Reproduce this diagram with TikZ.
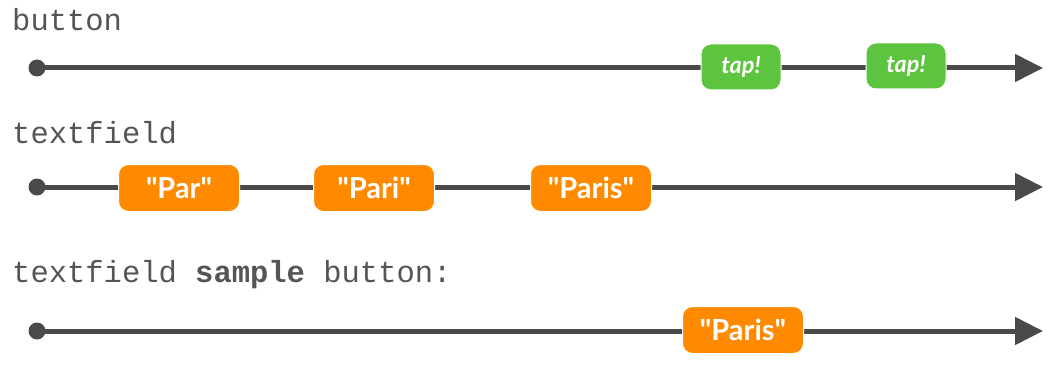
\documentclass[tikz,border=0pt]{standalone}
\usepackage{fontspec}
\setmainfont{Lato}[Ligatures=TeXOff]
\setmonofont{Liberation Mono}
\usetikzlibrary{arrows.meta}
\definecolor{linegray}{HTML}{4A4A4A}
\definecolor{labelgray}{HTML}{555555}
\definecolor{tapgreen}{HTML}{5DC43F}
\definecolor{valorange}{HTML}{FF8A00}
\tikzset{
  x=1pt, y=-1pt,
  rowlabel/.style={anchor=base west, inner sep=0pt, text=labelgray, font=\fontsize{30.5}{32}\selectfont\ttfamily},
  startdot/.style={circle, fill=linegray, minimum size=17pt, inner sep=0pt},
  timeline/.style={draw=linegray, line width=5pt, -{Triangle[length=28pt,width=27pt]}},
  tapbox/.style={rounded corners=10pt, fill=tapgreen, draw=white, line width=1pt, minimum width=80pt, minimum height=46pt, inner sep=0pt, text=white, font=\fontsize{23.5}{25}\selectfont\bfseries\itshape},
  valbox/.style={rounded corners=10pt, fill=valorange, draw=white, line width=1pt, minimum width=121pt, minimum height=47pt, inner sep=0pt, text=white, font=\fontsize{29}{31}\selectfont\bfseries},
}
\begin{document}
\begin{tikzpicture}
\useasboundingbox (0,0) rectangle (1059,385);
% row 1
\node[rowlabel] (l1) at (12,31) {button};
\node[startdot] (s1) at (37,68) {};
\coordinate (e1) at (1043,68);
\draw[timeline] (s1.center) -- (e1);
\node[tapbox] (t1) at (741,67) {tap!};
\node[tapbox] (t2) at (906,66) {tap!};
% row 2
\node[rowlabel] (l2) at (12,143) {textfield};
\node[startdot] (s2) at (37,187) {};
\coordinate (e2) at (1043,187);
\draw[timeline] (s2.center) -- (e2);
\node[valbox] (v1) at (179,188) {"Par"};
\node[valbox] (v2) at (374,188) {"Pari"};
\node[valbox] (v3) at (591,188) {"Paris"};
% row 3
\node[rowlabel] (l3) at (12,282) {textfield \textbf{sample} button:};
\node[startdot] (s3) at (37,331) {};
\coordinate (e3) at (1043,331);
\draw[timeline] (s3.center) -- (e3);
\node[valbox] (v4) at (743,330) {"Paris"};
\end{tikzpicture}
\end{document}
